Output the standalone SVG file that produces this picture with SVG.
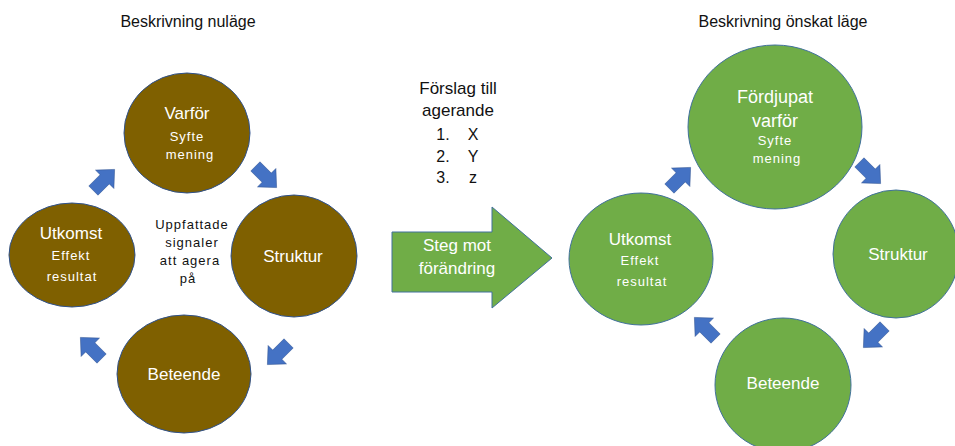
<svg xmlns="http://www.w3.org/2000/svg" width="955" height="446" viewBox="0 0 955 446">
<defs>
<style>
text{font-family:"Liberation Sans","DejaVu Sans",sans-serif;text-anchor:middle}
.brown{fill:#7F6000;stroke:#2F528F;stroke-width:1}
.green{fill:#70AD47;stroke:#41719C;stroke-width:1}
.w{fill:#fff}
.k{fill:#111}
.big{font-size:17px}
.sm{font-size:13px;letter-spacing:1px}
.ttl{font-size:16px;fill:#111}
.ba{fill:#4472C4;stroke:#2F528F;stroke-width:0.5}
</style>
<path id="barrow" d="M-15,-6.5 L1,-6.5 L1,-13 L15,0 L1,13 L1,6.5 L-15,6.5 Z"/>
</defs>
<rect width="955" height="446" fill="#fff"/>

<text class="ttl" x="188" y="27">Beskrivning nuläge</text>
<text class="ttl" x="783" y="27">Beskrivning önskat läge</text>

<!-- left cycle -->
<g id="l-varfor">
<ellipse class="brown" cx="187" cy="133" rx="63" ry="60"/>
<text class="w big" x="187" y="119">Varför</text>
<text class="w sm" x="187" y="141" letter-spacing="0">Syfte</text>
<text class="w sm" x="190" y="159">mening</text>
</g>
<g id="l-struktur">
<ellipse class="brown" cx="294" cy="256" rx="63" ry="61"/>
<text class="w big" x="293" y="262">Struktur</text>
</g>
<g id="l-utkomst">
<ellipse class="brown" cx="72" cy="255" rx="63" ry="52"/>
<text class="w big" x="71" y="239">Utkomst</text>
<text class="w sm" x="71" y="260">Effekt</text>
<text class="w sm" x="72" y="281">resultat</text>
</g>
<g id="l-beteende">
<ellipse class="brown" cx="184" cy="374" rx="67" ry="59"/>
<text class="w big" x="184" y="380">Beteende</text>
</g>
<g id="l-center">
<text class="k sm" x="192" y="229" letter-spacing="1.5">Uppfattade</text>
<text class="k sm" x="192" y="247" letter-spacing="1.5">signaler</text>
<text class="k sm" x="190" y="265" letter-spacing="1.5">att agera</text>
<text class="k sm" x="188" y="283" letter-spacing="1.5">på</text>
</g>

<!-- middle -->
<g id="suggestions">
<text class="k" font-size="17" x="458" y="94">Förslag till</text>
<text class="k" font-size="17" x="458" y="116">agerande</text>
<text class="k" font-size="16" x="443" y="140">1.</text>
<text class="k" font-size="16" x="473" y="140">X</text>
<text class="k" font-size="16" x="443" y="162">2.</text>
<text class="k" font-size="16" x="473" y="162">Y</text>
<text class="k" font-size="16" x="443" y="183">3.</text>
<text class="k" font-size="16" x="473" y="183">z</text>
</g>
<g id="big-arrow">
<path class="green" d="M392,232 L492,232 L492,207 L552,258 L492,308 L492,292 L392,292 Z"/>
<text class="w big" x="457" y="251">Steg mot</text>
<text class="w big" x="457" y="274">förändring</text>
</g>

<!-- right cycle -->
<g id="r-fordjupat">
<ellipse class="green" cx="775" cy="127" rx="87" ry="82"/>
<text class="w" font-size="18" x="775" y="103">Fördjupat</text>
<text class="w" font-size="18" x="775" y="127">varför</text>
<text class="w sm" x="775" y="145" letter-spacing="0">Syfte</text>
<text class="w sm" x="777" y="163">mening</text>
</g>
<g id="r-struktur">
<ellipse class="green" cx="896" cy="254" rx="63" ry="64"/>
<text class="w big" x="898" y="260">Struktur</text>
</g>
<g id="r-utkomst">
<ellipse class="green" cx="641" cy="259" rx="72" ry="66"/>
<text class="w big" x="640" y="245">Utkomst</text>
<text class="w sm" x="640" y="265">Effekt</text>
<text class="w sm" x="642" y="286">resultat</text>
</g>
<g id="r-beteende">
<ellipse class="green" cx="783" cy="385" rx="68" ry="67"/>
<text class="w big" x="783" y="389">Beteende</text>
</g>

<!-- connectors -->
<g id="connectors">
<use href="#barrow" class="ba" transform="translate(104,180) rotate(-45)"/>
<use href="#barrow" class="ba" transform="translate(266,177) rotate(45)"/>
<use href="#barrow" class="ba" transform="translate(278,354) rotate(135)"/>
<use href="#barrow" class="ba" transform="translate(91,348) rotate(-135)"/>
<use href="#barrow" class="ba" transform="translate(680,178) rotate(-45)"/>
<use href="#barrow" class="ba" transform="translate(870,173) rotate(45)"/>
<use href="#barrow" class="ba" transform="translate(874,337) rotate(135)"/>
<use href="#barrow" class="ba" transform="translate(705,328) rotate(-135)"/>
</g>
</svg>
